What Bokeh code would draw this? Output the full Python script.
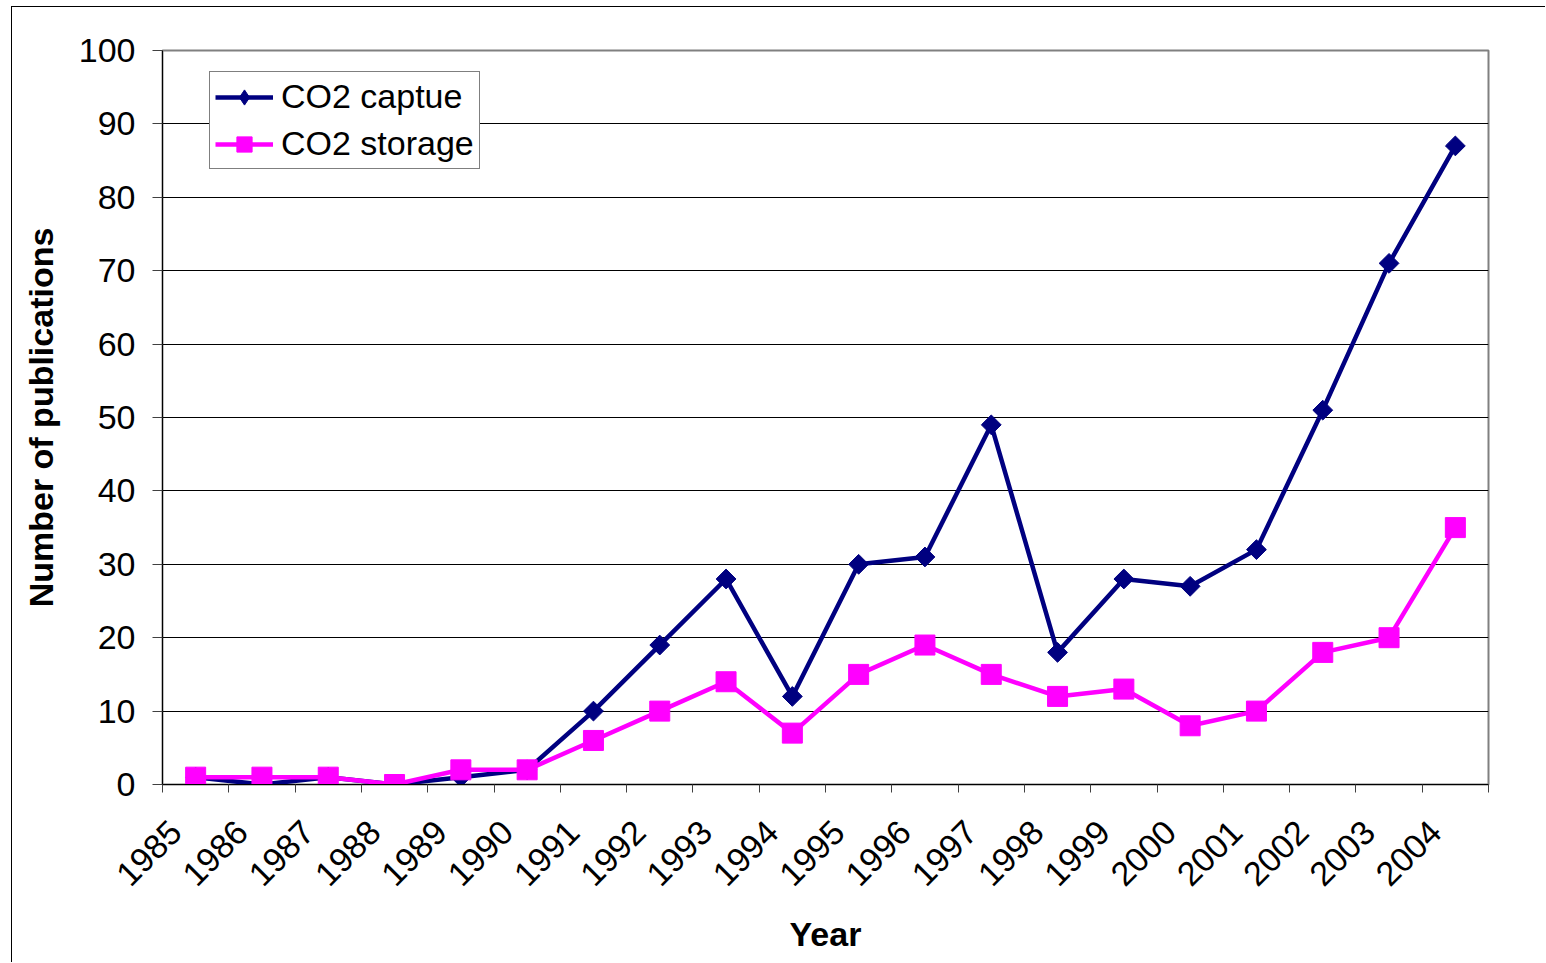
import numpy as np
from bokeh.plotting import figure
from bokeh.models import (ColumnDataSource, FixedTicker, CustomJSTickFormatter,
                          Legend, LegendItem)
from bokeh.embed import file_html
from bokeh.resources import INLINE

# ---- data ----
years = ["1985", "1986", "1987", "1988", "1989", "1990", "1991", "1992", "1993", "1994",
         "1995", "1996", "1997", "1998", "1999", "2000", "2001", "2002", "2003", "2004"]
capture = [1, 0, 1, 0, 1, 2, 10, 19, 28, 12, 30, 31, 49, 18, 28, 27, 32, 51, 71, 87]
storage = [1, 1, 1, 0, 2, 2, 6, 10, 14, 7, 15, 19, 15, 12, 13, 8, 10, 18, 20, 35]
y_ticks = [0, 10, 20, 30, 40, 50, 60, 70, 80, 90, 100]

n = len(years)
xpos = [i + 0.5 for i in range(n)]
src = ColumnDataSource(dict(x=xpos, year=years, capture=capture, storage=storage))

FONT = "Liberation Sans"
NAVY = "#000080"
MAGENTA = "#FF00FF"
FS = "34px"
LABEL_SHIFT = 0.3  # rotated labels sit slightly left of category centres

p = figure(width=1534, height=956, x_range=(0, n), y_range=(0, 100),
           output_backend="svg", toolbar_location=None,
           min_border_left=150, min_border_top=43, min_border_right=58,
           min_border_bottom=179)
p.styles = {"border-left": "1px solid black", "border-top": "1px solid black",
            "margin-left": "11px", "margin-top": "6px"}

p.outline_line_color = "#808080"
p.outline_line_width = 2
p.background_fill_color = "white"
p.border_fill_color = "white"

# grid
p.xgrid.grid_line_color = None
p.ygrid.grid_line_color = "black"
p.ygrid.grid_line_width = 1
p.ygrid.ticker = FixedTicker(ticks=y_ticks)

# y axis
p.yaxis.ticker = FixedTicker(ticks=y_ticks)
p.yaxis.axis_line_color = "black"
p.yaxis.major_tick_out = 10
p.yaxis.major_tick_in = 0
p.yaxis.major_tick_line_color = "#404040"
p.yaxis.minor_tick_line_color = None
p.yaxis.major_label_standoff = 17
p.yaxis.major_label_text_font = FONT
p.yaxis.major_label_text_font_size = FS
p.yaxis.major_label_text_color = "black"
p.yaxis.axis_label = "Number of publications"
p.yaxis.axis_label_text_font = FONT
p.yaxis.axis_label_text_font_size = FS
p.yaxis.axis_label_text_font_style = "bold"
p.yaxis.axis_label_text_color = "black"
p.yaxis.axis_label_standoff = 16

# x axis: labels near category centres, ticks at category boundaries
p.xaxis.ticker = FixedTicker(ticks=[x - LABEL_SHIFT for x in xpos],
                             minor_ticks=list(range(n + 1)))
p.xaxis.formatter = CustomJSTickFormatter(args=dict(labels=years),
                                          code="return labels[Math.floor(tick)];")
p.xaxis.major_label_orientation = np.pi / 4
p.xaxis.axis_line_color = "black"
p.xaxis.major_tick_line_color = None
p.xaxis.major_tick_out = 0
p.xaxis.major_tick_in = 0
p.xaxis.minor_tick_line_color = "#404040"
p.xaxis.minor_tick_out = 8
p.xaxis.minor_tick_in = 0
p.xaxis.major_label_standoff = 34
p.xaxis.major_label_text_font = FONT
p.xaxis.major_label_text_font_size = FS
p.xaxis.major_label_text_color = "black"
p.xaxis.axis_label = "Year"
p.xaxis.axis_label_text_font = FONT
p.xaxis.axis_label_text_font_size = FS
p.xaxis.axis_label_text_font_style = "bold"
p.xaxis.axis_label_text_color = "black"
p.xaxis.axis_label_standoff = 16

# series
l1 = p.line("x", "capture", source=src, line_color=NAVY, line_width=4.5)
s1 = p.scatter("x", "capture", source=src, marker="square", angle=np.pi / 4,
               size=14, fill_color=NAVY, line_color=NAVY)
l2 = p.line("x", "storage", source=src, line_color=MAGENTA, line_width=4.5)
s2 = p.scatter("x", "storage", source=src, marker="square", size=20,
               fill_color=MAGENTA, line_color=MAGENTA)

# legend-only symbol (Excel legend shows a taller diamond); NaN -> nothing in plot
leg_src = ColumnDataSource(dict(x=[np.nan], y=[np.nan]))
s1_leg = p.scatter("x", "y", source=leg_src, marker="diamond", size=23,
                   fill_color=NAVY, line_color=NAVY)

legend = Legend(items=[LegendItem(label="CO2 captue", renderers=[l1, s1_leg]),
                       LegendItem(label="CO2 storage", renderers=[l2, s2])],
                location=(47, 615))
legend.margin = 0
legend.padding = 5
legend.spacing = 8
legend.glyph_width = 58
legend.glyph_height = 38
legend.label_standoff = 8
legend.label_text_font = FONT
legend.label_text_font_size = FS
legend.label_text_color = "black"
legend.border_line_color = "black"
legend.border_line_width = 1
legend.background_fill_color = "white"
legend.background_fill_alpha = 1
p.add_layout(legend)

open("out.html", "w").write(file_html(p, INLINE))
